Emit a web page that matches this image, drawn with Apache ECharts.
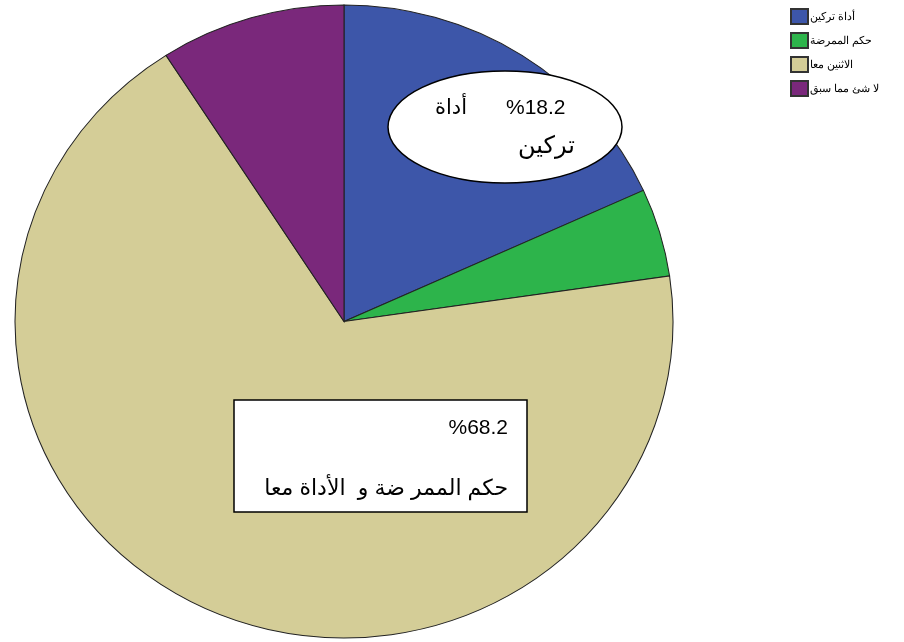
<!DOCTYPE html>
<html>
<head>
<meta charset="utf-8">
<script src="https://cdn.jsdelivr.net/npm/echarts@6/dist/echarts.min.js"></script>
<style>
    html, body { margin: 0; padding: 0; background: #fff; }
    #report { width: 904px; height: 642px; }
</style>
</head>
<body>
<div id="report"></div>
<script>
// categories and percentages
var categories = ['أداة تركين', 'حكم الممرضة', 'الاثنين معا', 'لا شئ مما سبق'];
var values = [18.2, 4.5, 68.2, 9.1];
var colors = ['#3d56a9', '#2db44b', '#d4cd97', '#7a287b'];
var noteLabels = ['أداة', 'تركين', 'حكم الممر ضة و  الأداة معا'];

var myChart = echarts.init(document.getElementById('report'));

// the original pie is a little wider than tall, so each slice is drawn as a sector stretched in x
var pieCx = 344, pieCy = 321.5, pieR = 316.5, stretchX = 329 / 316.5;
var total = 0;
for (var t = 0; t < values.length; t++) total += values[t];

function sliceRenderer(index) {
    return function (params, api) {
        var before = 0;
        for (var k = 0; k < index; k++) before += values[k];
        var start = -Math.PI / 2 + before / total * Math.PI * 2;
        var end = start + api.value(0) / total * Math.PI * 2;
        return {
            type: 'sector',
            shape: { cx: pieCx, cy: pieCy, r: pieR, r0: 0, startAngle: start, endAngle: end, clockwise: true },
            originX: pieCx,
            originY: pieCy,
            scaleX: stretchX,
            style: { fill: colors[index], stroke: '#222', lineWidth: 1 }
        };
    };
}

var series = [];
for (var i = 0; i < categories.length; i++) {
    series.push({
        type: 'custom',
        name: categories[i],
        coordinateSystem: 'none',
        itemStyle: { color: colors[i], borderColor: '#333', borderWidth: 1 },
        emphasis: { disabled: true },
        renderItem: sliceRenderer(i),
        data: [[values[i]]]
    });
}

var textFont = 'Liberation Sans, Arial, DejaVu Sans, sans-serif';

var option = {
    animation: false,
    backgroundColor: '#fff',
    legend: {
        orient: 'vertical',
        left: 790,
        top: 8,
        padding: 0,
        itemWidth: 17,
        itemHeight: 15,
        itemGap: 7,
        icon: 'rect',
        selectedMode: false,
        textStyle: { fontSize: 11, color: '#000', padding: [0, 0, 0, -3] },
        data: categories
    },
    series: series,
    graphic: [
        // ellipse callout for first slice
        {
            type: 'ellipse',
            shape: { cx: 505, cy: 127, rx: 117, ry: 56 },
            style: { fill: '#fff', stroke: '#000', lineWidth: 1.5 },
            z: 10
        },
        {
            type: 'text', left: 435, top: 98, z: 11,
            style: { text: noteLabels[0], font: '21px ' + textFont, fill: '#000' }
        },
        {
            type: 'text', left: 506, top: 98, z: 11,
            style: { text: '%' + values[0].toFixed(1), font: '21px ' + textFont, fill: '#000' }
        },
        {
            type: 'text', left: 518, top: 134, z: 11,
            style: { text: noteLabels[1], font: '24px ' + textFont, fill: '#000' }
        },
        // box callout for the big slice
        {
            type: 'rect',
            shape: { x: 234, y: 400, width: 293, height: 112 },
            style: { fill: '#fff', stroke: '#000', lineWidth: 1.5 },
            z: 10
        },
        {
            type: 'text', right: 904 - 508, top: 418, z: 11,
            style: { text: '%' + values[2].toFixed(1), font: '21px ' + textFont, fill: '#000' }
        },
        {
            type: 'text', right: 904 - 508, top: 478, z: 11,
            style: { text: noteLabels[2], font: '22px ' + textFont, fill: '#000' }
        }
    ]
};

myChart.setOption(option);
</script>
</body>
</html>
